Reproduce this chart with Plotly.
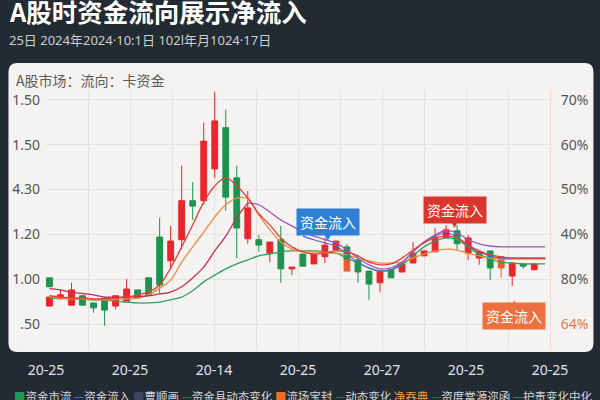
import plotly.graph_objects as go

# ---------------- text ----------------
title_text = "A股时资金流向展示净流入"
subtitle_text = "25日 2024年2024·10:1日 102l年月1024·17日"
panel_title = "A股市场：流向：卡资金"
callout_text = "资金流入"

x_labels = ["20-25", "20-25", "20-14", "20-25", "20-27", "20-25", "20-25"]
y_ticks = [0, 1, 2, 3, 4, 5]
y_left_labels = [".50", "1.00", "1.20", "4.30", "1.50", "1.50"]
y_right_labels = ["64%", "80%", "40%", "50%", "60%", "70%"]

# ---------------- candles ----------------
candle_x = [0, 0, 1, 2, 3, 4, 5, 6, 7, 8, 9, 10, 11, 12, 13, 14, 15, 16, 17, 18, 19, 20,
            21, 22, 23, 24, 25, 26, 27, 28, 29, 30, 31, 32, 33, 34, 35, 36, 37, 38, 39, 40,
            42, 43, 44]
candle_open = [1.03, 0.40, 0.56, 0.42, 0.63, 0.47, 0.58, 0.40, 0.51, 0.76, 1.03, 1.94, 1.41,
               1.88, 2.75, 2.75, 3.46, 4.38, 3.26, 1.90, 1.88, 1.58, 1.88, 1.23, 1.56, 1.34,
               1.50, 1.65, 1.72, 1.43, 1.18, 0.92, 1.21, 1.16, 1.36, 1.52, 1.61, 1.92, 2.08,
               1.58, 1.47, 1.63, 1.07, 1.34, 1.21]
candle_close = [0.83, 0.60, 0.65, 0.76, 0.42, 0.36, 0.31, 0.63, 0.78, 0.58, 0.65, 0.87, 1.85,
                2.75, 2.63, 4.08, 4.53, 2.83, 2.14, 2.59, 1.76, 1.83, 1.23, 1.27, 1.29, 1.56,
                1.76, 1.85, 1.43, 1.16, 0.89, 1.18, 1.03, 1.34, 1.58, 1.63, 1.94, 2.10, 1.79,
                1.92, 1.61, 1.25, 1.36, 1.29, 1.34]
candle_high = [1.03, 0.60, 0.78, 0.92, 0.63, 0.47, 0.60, 0.63, 1.00, 0.76, 1.03, 2.37, 2.19,
               3.53, 3.17, 4.49, 5.18, 4.78, 3.53, 2.97, 1.99, 1.83, 2.19, 1.27, 1.56, 1.56,
               1.92, 1.85, 1.79, 1.54, 1.18, 1.18, 1.21, 1.34, 1.83, 1.63, 2.14, 2.21, 2.21,
               1.99, 1.61, 1.63, 1.38, 1.34, 1.34]
candle_low = [0.83, 0.40, 0.56, 0.42, 0.42, 0.25, -0.04, 0.33, 0.51, 0.58, 0.65, 0.69, 1.21,
              1.67, 2.32, 2.66, 3.26, 2.52, 1.47, 1.79, 1.61, 1.38, 0.92, 1.09, 1.29, 1.34,
              1.36, 1.65, 1.43, 0.92, 0.54, 0.71, 1.03, 1.16, 1.36, 1.52, 1.61, 1.92, 1.65,
              1.43, 1.32, 0.98, 0.85, 1.23, 1.21]

# orange-tinted candles
orange_x = [27, 41]
orange_open = [1.18, 1.25]
orange_close = [1.43, 1.50]
orange_high = [1.43, 1.50]
orange_low = [1.18, 1.03]

# ---------------- moving-average style lines ----------------
crimson_x = list(range(0, 19))
crimson_y = [0.79, 0.76, 0.71, 0.68, 0.65, 0.60, 0.60, 0.60, 0.61, 0.63, 0.67, 0.71, 0.83,
             1.03, 1.27, 1.63, 1.96, 2.37, 2.70]
purple_x = list(range(18, 46))
purple_y = [2.70, 2.66, 2.50, 2.32, 2.19, 2.05, 1.96, 1.88, 1.81, 1.65, 1.47, 1.32, 1.23,
            1.25, 1.38, 1.61, 1.83, 1.99, 2.08, 2.03, 1.88, 1.79, 1.74, 1.72, 1.72, 1.72,
            1.72, 1.72]
line_x = list(range(0, 46))
red_y = [0.63, 0.60, 0.58, 0.58, 0.56, 0.56, 0.58, 0.60, 0.65, 0.71,
         0.87, 1.25, 1.72, 2.21, 2.72, 3.08, 3.26, 3.08, 2.81, 2.46,
         2.21, 1.92, 1.72, 1.61, 1.56, 1.58, 1.63, 1.61, 1.52, 1.38,
         1.32, 1.34, 1.47, 1.65, 1.81, 1.92, 1.96, 1.92, 1.76, 1.63,
         1.54, 1.50, 1.47, 1.47, 1.47, 1.47]
orange_y = [0.60, 0.58, 0.56, 0.56, 0.54, 0.54, 0.55, 0.56, 0.58, 0.65,
            0.80, 0.98, 1.38, 1.72, 2.05, 2.39, 2.66, 2.81, 2.79, 2.43,
            2.10, 1.83, 1.67, 1.61, 1.61, 1.58, 1.58, 1.54, 1.47, 1.41,
            1.36, 1.36, 1.38, 1.47, 1.56, 1.63, 1.67, 1.65, 1.58, 1.52,
            1.47, 1.45, 1.45, 1.45, 1.45, 1.45]
green_y = [0.58, 0.57, 0.56, 0.55, 0.54, 0.54, 0.51, 0.49, 0.47, 0.47,
           0.49, 0.54, 0.60, 0.74, 0.94, 1.09, 1.23, 1.34, 1.43, 1.52,
           1.56, 1.61, 1.63, 1.63, 1.63, 1.61, 1.58, 1.47, 1.36, 1.25,
           1.18, 1.21, 1.32, 1.52, 1.72, 1.85, 1.92, 1.88, 1.72, 1.56,
           1.45, 1.38, 1.36, 1.34, 1.34, 1.34]
blue_x = list(range(23, 46))
blue_y = [1.96, 1.88, 1.81, 1.74, 1.56, 1.38, 1.25, 1.18, 1.21, 1.36, 1.61, 1.83, 1.96,
          2.03, 1.94, 1.74, 1.61, 1.52, 1.47, 1.47, 1.47, 1.47, 1.47]

# legend entries: (symbol, symbol colour, label, label colour)
legend_items = [
    ("■", "#1f9a55", "资金市流", "#d8d8d8"),
    ("—", "#3d7fd0", "资金流入", "#d8d8d8"),
    ("■", "#3b4662", "曹顺画", "#d8d8d8"),
    ("—", "#d0393a", "资金县动态变化", "#d8d8d8"),
    ("■", "#f06a2a", "流场宝封", "#d8d8d8"),
    ("—", "#d0393a", "动态变化", "#d8d8d8"),
    ("", "#f0a040", "净吞典", "#f0a040"),
    ("—", "#c0392b", "资度當源迩函", "#d8d8d8"),
    ("—", "#2ea05a", "护责变化中化", "#d8d8d8"),
]

assert len(candle_x) == len(candle_open) == len(candle_close) == len(candle_high) == len(candle_low)

# ---------------- styling ----------------
FONT = "Noto Sans CJK SC, Noto Sans, sans-serif"
LATIN_FONT = "Noto Sans, Noto Sans CJK SC, sans-serif"
RED = "#e8262b"
GREEN = "#1e9350"
BG = "#222a33"
PANEL = "#f4f3f1"

X_RANGE = [-0.314, 45.43]
Y_RANGE = [-0.58, 5.22]

fig = go.Figure()

fig.add_trace(go.Candlestick(
    x=candle_x, open=candle_open, high=candle_high, low=candle_low, close=candle_close,
    increasing=dict(line=dict(color=RED, width=1), fillcolor=RED),
    decreasing=dict(line=dict(color=GREEN, width=1), fillcolor=GREEN),
    whiskerwidth=0, showlegend=False, hoverinfo="skip", name="K"))
fig.add_trace(go.Candlestick(
    x=orange_x, open=orange_open, high=orange_high, low=orange_low, close=orange_close,
    increasing=dict(line=dict(color="#ec5a32", width=1), fillcolor="#ec5a32"),
    decreasing=dict(line=dict(color="#ec5a32", width=1), fillcolor="#ec5a32"),
    whiskerwidth=0, showlegend=False, hoverinfo="skip", name="K2"))

def add_line(xs, ys, color, width=1.3):
    fig.add_trace(go.Scatter(x=xs, y=ys, mode="lines",
                             line=dict(color=color, width=width, shape="spline", smoothing=1.0),
                             showlegend=False, hoverinfo="skip"))

add_line(line_x, green_y, "#2f9e5e")
add_line(line_x, orange_y, "#f08a3c")
add_line(blue_x, blue_y, "#5562c8", 1.1)
add_line(crimson_x, crimson_y, "#c62f55")
add_line(purple_x, purple_y, "#a056b8")
add_line(line_x, red_y, "#e2403a")

# dummy trace to activate the right-hand axis
fig.add_trace(go.Scatter(x=[None], y=[None], yaxis="y2", showlegend=False, hoverinfo="skip"))

# x ticks / grid
span = X_RANGE[1] - X_RANGE[0]
x_tickvals = [X_RANGE[0] + span * j / 6 for j in range(7)]
x_tickvals[0] += 0.002
x_tickvals[-1] -= 0.002
x_minor = [X_RANGE[0] + span * k / 12 for k in range(13)]

right_ticktext = [
    '<span style="color:#e07a45">%s</span>' % t if t == "64%" else t for t in y_right_labels
]

fig.update_layout(
    width=600, height=400,
    margin=dict(l=43, r=47, t=90, b=50),
    paper_bgcolor=BG, plot_bgcolor="rgba(0,0,0,0)",
    font=dict(family=FONT, color="#555555", size=14),
    showlegend=False, hovermode=False, boxgap=0.25,
    xaxis=dict(range=X_RANGE, rangeslider=dict(visible=False), showline=False, zeroline=False,
               tickmode="array", tickvals=x_tickvals, ticktext=x_labels,
               tickfont=dict(color="#e2e2e2", size=14, family=LATIN_FONT),
               ticks="", ticklabelstandoff=10,
               showgrid=True, gridcolor="#e4e2de", gridwidth=1,
               minor=dict(tickvals=x_minor, showgrid=True, gridcolor="#e4e2de", gridwidth=1, ticks="")),
    yaxis=dict(range=Y_RANGE, tickmode="array", tickvals=y_ticks, ticktext=y_left_labels,
               tickfont=dict(color="#555555", size=14, family=LATIN_FONT), ticks="",
               ticklabelstandoff=5, showgrid=True, gridcolor="#e4e2de", zeroline=False,
               showline=False),
    yaxis2=dict(range=Y_RANGE, overlaying="y", side="right", tickmode="array",
                tickvals=y_ticks, ticktext=right_ticktext,
                tickfont=dict(color="#555555", size=14, family=LATIN_FONT), ticks="",
                ticklabelstandoff=7, showgrid=False, zeroline=False,
                showline=True, linecolor="#e9ddd0", linewidth=1),
)

# rounded white panel (paper coordinates derived from pixel layout)
def px_x(p):
    return (p - 43) / 510.0

def px_y(p):
    return (350 - p) / 260.0

x0, x1 = px_x(5), px_x(597)
y1, y0 = px_y(63), px_y(352)
rx, ry = 9 / 510.0, 9 / 260.0
path = (f"M {x0+rx},{y1} L {x1-rx},{y1} Q {x1},{y1} {x1},{y1-ry} L {x1},{y0+ry} "
        f"Q {x1},{y0} {x1-rx},{y0} L {x0+rx},{y0} Q {x0},{y0} {x0},{y0+ry} "
        f"L {x0},{y1-ry} Q {x0},{y1} {x0+rx},{y1} Z")
fig.add_shape(type="path", path=path, xref="paper", yref="paper",
              fillcolor=PANEL, line=dict(width=0), layer="below")

# titles
fig.add_annotation(text="<b>%s</b>" % title_text, xref="paper", yref="paper",
                   x=px_x(4), y=px_y(11), xanchor="left", yanchor="middle",
                   showarrow=False, font=dict(size=25.5, color="#ffffff", family=FONT))
fig.add_annotation(text=subtitle_text, xref="paper", yref="paper",
                   x=px_x(4), y=px_y(40), xanchor="left", yanchor="middle",
                   showarrow=False, font=dict(size=13, color="#cfcfcf", family=LATIN_FONT))
fig.add_annotation(text=panel_title, xref="paper", yref="paper",
                   x=px_x(11), y=px_y(80), xanchor="left", yanchor="middle",
                   showarrow=False, font=dict(size=14, color="#5a5a5a", family=FONT))

# callouts
callouts = [
    (25.25, 2.28, "#2f7fd6", "▼", 1.94),
    (36.8, 2.54, "#d9372e", "▼", 2.23),
    (42.2, 0.18, "#ec7040", "▲", 0.47),
]
for cx, cy, col, arrow, ay in callouts:
    fig.add_annotation(text=arrow, x=cx, y=ay, xref="x", yref="y", showarrow=False,
                       font=dict(size=9, color=col, family="DejaVu Sans"))
    fig.add_annotation(text=callout_text, x=cx, y=cy, xref="x", yref="y", showarrow=False,
                       bgcolor=col, borderpad=3, font=dict(size=14, color="#ffffff", family=FONT))

# legend row (custom)
parts = []
for sym, scol, lab, lcol in legend_items:
    s = ""
    if sym:
        s += '<span style="color:%s">%s</span>' % (scol, sym)
    s += '<span style="color:%s">%s</span>' % (lcol, lab)
    parts.append(s)
fig.add_annotation(text=" ".join(parts), xref="paper", yref="paper",
                   x=px_x(9), y=px_y(396), xanchor="left", yanchor="middle",
                   showarrow=False, font=dict(size=11.5, color="#d8d8d8", family=FONT))

fig.write_html("out.html", config={"displayModeBar": False},
               post_script="document.body.style.margin='0';document.body.style.overflow='hidden';")
